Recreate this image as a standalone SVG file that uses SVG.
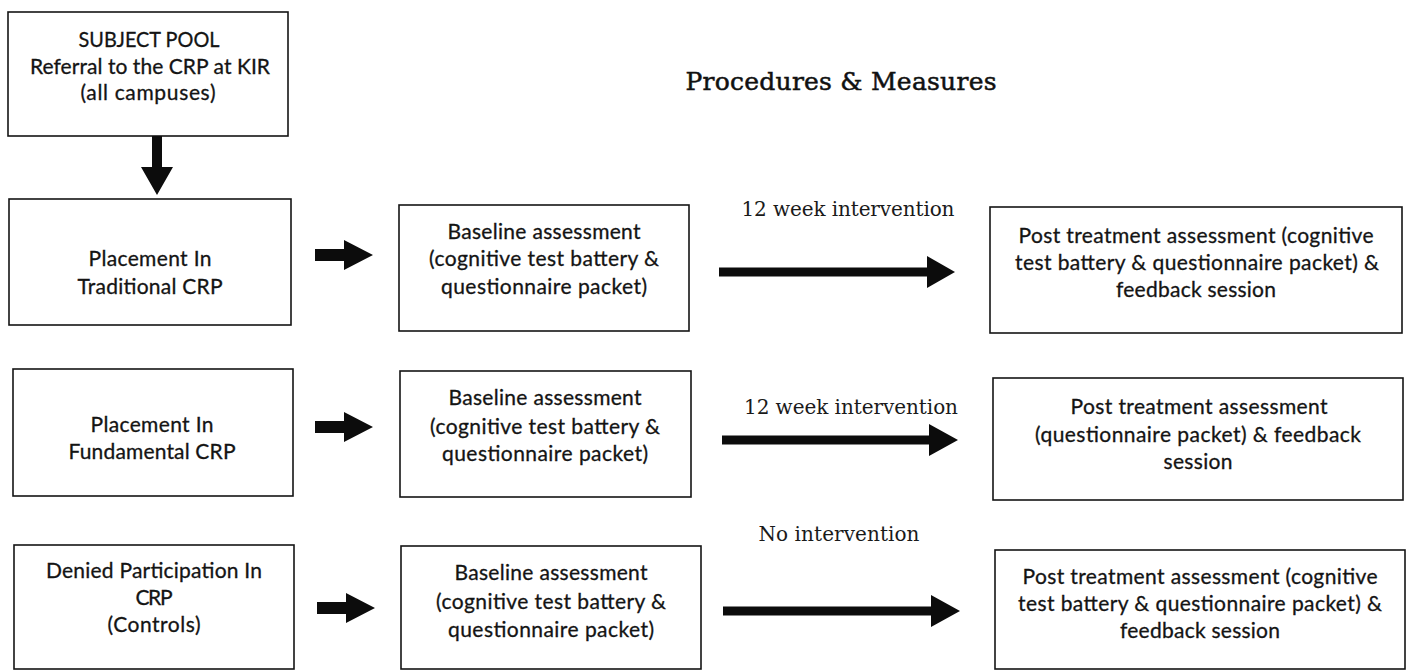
<svg xmlns="http://www.w3.org/2000/svg" width="1409" height="671" viewBox="0 0 1409 671">
  <style>
    .box { fill: #ffffff; stroke: #141414; stroke-width: 1.6; }
    .lbl { font-family: Lato, "Open Sans", "Liberation Sans", sans-serif; font-size: 21px; fill: #141414; stroke: #141414; stroke-width: 0.3; text-anchor: middle; }
    .ser { font-family: "DejaVu Serif", "Liberation Serif", serif; font-size: 20px; fill: #1a1a1a; text-anchor: middle; }
    .title { font-family: "DejaVu Serif", "Liberation Serif", serif; font-size: 25px; fill: #111111; stroke: #111111; stroke-width: 0.5; text-anchor: middle; }
    .arr { fill: #0c0c0c; }
  </style>
  <rect width="1409" height="671" fill="#ffffff"/>

  <text class="title" x="841" y="90" textLength="311" lengthAdjust="spacing">Procedures &amp; Measures</text>

  <!-- left column: referral and group placement -->
  <g id="subject-pool">
    <rect class="box" x="8" y="12" width="280" height="124"/>
    <text class="lbl" x="149" y="47" textLength="141" lengthAdjust="spacingAndGlyphs">SUBJECT POOL</text>
    <text class="lbl" x="150" y="74" textLength="240" lengthAdjust="spacing">Referral to the CRP at KIR</text>
    <text class="lbl" x="148" y="100" textLength="135" lengthAdjust="spacing">(all campuses)</text>
  </g>
  <g id="traditional">
    <rect class="box" x="9" y="199" width="282" height="126"/>
    <text class="lbl" x="150" y="266" textLength="123" lengthAdjust="spacing">Placement In</text>
    <text class="lbl" x="150" y="294" textLength="145" lengthAdjust="spacing">Traditional CRP</text>
  </g>
  <g id="fundamental">
    <rect class="box" x="13" y="369" width="280" height="127"/>
    <text class="lbl" x="152" y="432" textLength="123" lengthAdjust="spacing">Placement In</text>
    <text class="lbl" x="152" y="459" textLength="167" lengthAdjust="spacing">Fundamental CRP</text>
  </g>
  <g id="denied">
    <rect class="box" x="14" y="545" width="280" height="124"/>
    <text class="lbl" x="154" y="578" textLength="216" lengthAdjust="spacing">Denied Participation In</text>
    <text class="lbl" x="154" y="605" textLength="37" lengthAdjust="spacing">CRP</text>
    <text class="lbl" x="154" y="632" textLength="93" lengthAdjust="spacing">(Controls)</text>
  </g>

  <!-- middle column: baseline assessments -->
  <g id="baseline-1">
    <rect class="box" x="399" y="205" width="290" height="126"/>
    <text class="lbl" x="544" y="239" textLength="193" lengthAdjust="spacing">Baseline assessment</text>
    <text class="lbl" x="544" y="266" textLength="230" lengthAdjust="spacing">(cognitive test battery &amp;</text>
    <text class="lbl" x="544" y="294" textLength="206" lengthAdjust="spacing">questionnaire packet)</text>
  </g>
  <g id="baseline-2">
    <rect class="box" x="400" y="371" width="291" height="126"/>
    <text class="lbl" x="545" y="405" textLength="193" lengthAdjust="spacing">Baseline assessment</text>
    <text class="lbl" x="545" y="434" textLength="230" lengthAdjust="spacing">(cognitive test battery &amp;</text>
    <text class="lbl" x="545" y="461" textLength="206" lengthAdjust="spacing">questionnaire packet)</text>
  </g>
  <g id="baseline-3">
    <rect class="box" x="401" y="546" width="300" height="123"/>
    <text class="lbl" x="551" y="580" textLength="193" lengthAdjust="spacing">Baseline assessment</text>
    <text class="lbl" x="551" y="609" textLength="230" lengthAdjust="spacing">(cognitive test battery &amp;</text>
    <text class="lbl" x="551" y="637" textLength="206" lengthAdjust="spacing">questionnaire packet)</text>
  </g>

  <!-- right column: post treatment -->
  <g id="post-1">
    <rect class="box" x="990" y="207" width="412" height="126"/>
    <text class="lbl" x="1196" y="243" textLength="355" lengthAdjust="spacing">Post treatment assessment (cognitive</text>
    <text class="lbl" x="1197" y="270" textLength="364" lengthAdjust="spacing">test battery &amp; questionnaire packet) &amp;</text>
    <text class="lbl" x="1196" y="297" textLength="160" lengthAdjust="spacing">feedback session</text>
  </g>
  <g id="post-2">
    <rect class="box" x="993" y="378" width="410" height="122"/>
    <text class="lbl" x="1199" y="414" textLength="257" lengthAdjust="spacing">Post treatment assessment</text>
    <text class="lbl" x="1198" y="442" textLength="326" lengthAdjust="spacing">(questionnaire packet) &amp; feedback</text>
    <text class="lbl" x="1198" y="469" textLength="69" lengthAdjust="spacing">session</text>
  </g>
  <g id="post-3">
    <rect class="box" x="995" y="550" width="410" height="119"/>
    <text class="lbl" x="1200" y="584" textLength="355" lengthAdjust="spacing">Post treatment assessment (cognitive</text>
    <text class="lbl" x="1200" y="611" textLength="364" lengthAdjust="spacing">test battery &amp; questionnaire packet) &amp;</text>
    <text class="lbl" x="1200" y="638" textLength="160" lengthAdjust="spacing">feedback session</text>
  </g>

  <!-- connectors -->
  <g id="connectors" class="arr">
    <!-- pool to placement -->
    <polygon points="152,136 162,136 162,167 173,167 157,195 141,167 152,167"/>
    <!-- placement to baseline -->
    <polygon points="315,249 344,249 344,240 373,255 344,270 344,261 315,261"/>
    <polygon points="315,421 344,421 344,412 373,427 344,442 344,433 315,433"/>
    <polygon points="317,602 346,602 346,593 375,608 346,623 346,614 317,614"/>
    <!-- baseline to post treatment -->
    <polygon points="719,267.5 927,267.5 927,256 955,272 927,288 927,276.5 719,276.5"/>
    <polygon points="722,435.5 929,435.5 929,424 958,440 929,456 929,444.5 722,444.5"/>
    <polygon points="723,606.5 931,606.5 931,595 960,611 931,627 931,615.5 723,615.5"/>
  </g>

  <!-- interval labels -->
  <text class="ser" x="848" y="216" textLength="213" lengthAdjust="spacing">12 week intervention</text>
  <text class="ser" x="851" y="414" textLength="214" lengthAdjust="spacing">12 week intervention</text>
  <text class="ser" x="839" y="541" textLength="161" lengthAdjust="spacing">No intervention</text>
</svg>
